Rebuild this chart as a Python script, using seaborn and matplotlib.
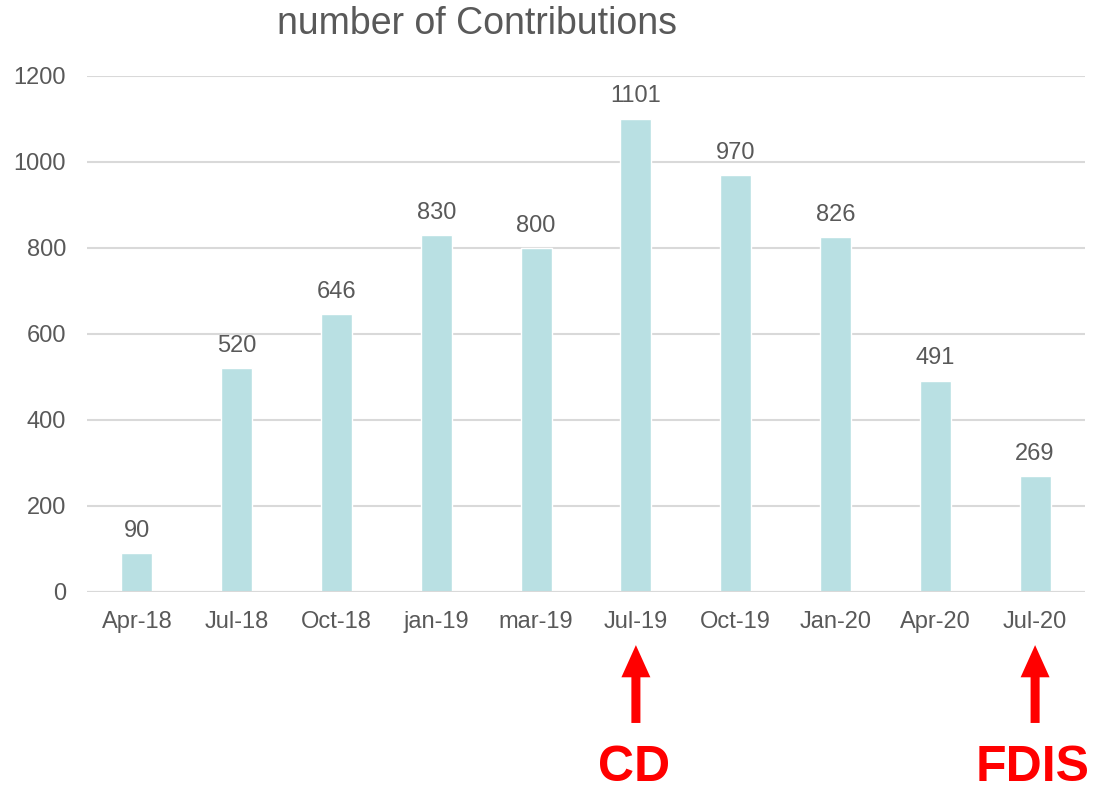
import matplotlib
matplotlib.use("Agg")
import matplotlib.pyplot as plt
import seaborn as sns
import pandas as pd

categories = ["Apr-18", "Jul-18", "Oct-18", "jan-19", "mar-19", "Jul-19",
              "Oct-19", "Jan-20", "Apr-20", "Jul-20"]
contributions = [90, 520, 646, 830, 800, 1101, 970, 826, 491, 269]
y_ticks = [0, 200, 400, 600, 800, 1000, 1200]
markers = [("CD", "Jul-19"), ("FDIS", "Jul-20")]

sns.set_theme(style="white")
plt.rcParams["font.family"] = ["Liberation Sans", "DejaVu Sans"]

grey = "#595959"
bar_color = "#B9E0E3"

fig = plt.figure(figsize=(10.96, 7.90), dpi=100)
ax = fig.add_axes([87 / 1096, 1 - 591.5 / 790, (1085 - 87) / 1096, 515.5 / 790])

df = pd.DataFrame({"month": categories, "count": contributions})
sns.barplot(data=df, x="month", y="count", color=bar_color, saturation=1,
            width=0.31, ax=ax, zorder=3)

ax.set_ylim(0, 1200)
ax.set_xlim(-0.5, len(categories) - 0.5)
ax.set_yticks(y_ticks)
ax.set_yticklabels([str(v) for v in y_ticks])
ax.yaxis.grid(True, color="#D9D9D9", linewidth=1.5, zorder=0)
ax.xaxis.grid(False)
for s in ["top", "right", "left", "bottom"]:
    ax.spines[s].set_visible(False)
ax.axhline(0, color="#D9D9D9", linewidth=1.5, zorder=4)

ax.tick_params(axis="both", length=0, labelsize=17, labelcolor=grey)
ax.tick_params(axis="y", pad=15)
ax.tick_params(axis="x", pad=14)
ax.set_xlabel("")
ax.set_ylabel("")

ax.bar_label(ax.containers[0], labels=[str(v) for v in contributions],
             padding=8, fontsize=17, color=grey)

fig.text(477 / 1096, 1 - 24 / 790, "number of Contributions", ha="center",
         va="center", fontsize=27, color=grey)

trans = ax.get_xaxis_transform()
for label, cat in markers:
    xi = categories.index(cat)
    ax.annotate("", xy=(xi, -0.104), xytext=(xi, -0.255), xycoords=trans,
                textcoords=trans,
                arrowprops=dict(arrowstyle="-|>,head_width=0.45,head_length=1.0",
                                color="#FF0000", lw=6.5, shrinkA=0, shrinkB=0,
                                capstyle="butt", joinstyle="miter"),
                annotation_clip=False)
    xfig = fig.transFigure.inverted().transform(ax.transData.transform((xi, 0)))[0]
    fig.text(xfig - 2 / 1096, 1 - 781 / 790, label, ha="center", va="baseline",
             fontsize=36, fontweight="bold", color="#FF0000")

fig.savefig("out.png", dpi=100)
